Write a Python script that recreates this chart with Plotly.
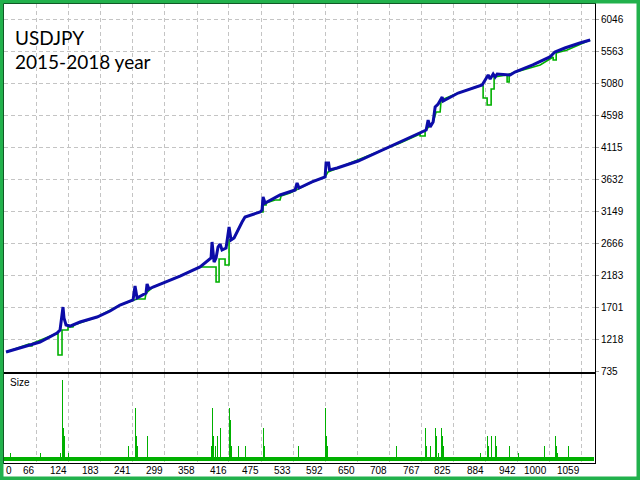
import plotly.graph_objects as go

# ---------------- data ----------------
title_lines = ["USDJPY", "2015-2018 year"]

balance_x = [10.1, 35.6, 72.0, 103.0, 108.5, 113.9, 115.7, 119.4, 126.7, 144.9, 175.9, 199.6,
             217.8, 241.5, 245.1, 248.8, 265.1, 267.0, 270.6, 277.9, 327.1, 363.5, 378.1, 383.6,
             385.4, 387.2, 389.1, 392.7, 396.3, 400.0, 403.6, 410.9, 416.4, 420.0, 425.5, 440.1,
             445.5, 472.9, 476.5, 478.3, 482.0, 509.3, 527.5, 536.7, 540.3, 543.9, 567.6, 585.8,
             591.3, 593.1, 597.7, 599.5, 613.3, 651.6, 722.5, 768.1, 775.4, 779.0, 782.7, 788.1,
             791.8, 797.3, 804.6, 806.4, 833.7, 877.4, 882.9, 888.4, 892.0, 897.5, 901.1, 904.8,
             928.5, 937.0, 969.8, 1000.8, 1009.9, 1028.1, 1055.4, 1074.2]
balance_y = [1026, 1087, 1177, 1313, 1358, 1705, 1539, 1434, 1418, 1479, 1554, 1645,
             1735, 1811, 2022, 1841, 1916, 2052, 1977, 2007, 2173, 2310, 2415, 2445,
             2686, 2536, 2384, 2445, 2611, 2656, 2566, 2596, 2913, 2716, 2747, 2988,
             3064, 3139, 3169, 3366, 3275, 3396, 3441, 3471, 3577, 3501, 3592, 3652,
             3667, 3878, 3878, 3773, 3803, 3908, 4179, 4345, 4375, 4526, 4420, 4496,
             4722, 4768, 4873, 4813, 4934, 5055, 5130, 5206, 5145, 5221, 5175, 5221,
             5206, 5251, 5357, 5478, 5553, 5613, 5689, 5734]

equity_x = [10.1, 52.0, 53.8, 57.5, 59.3, 103.0, 104.8, 104.8, 112.1, 112.1, 123.0, 123.0,
            132.1, 134.0, 175.9, 217.8, 241.5, 248.8, 263.3, 265.1, 277.9, 327.1, 363.5, 378.1,
            392.7, 392.7, 398.2, 398.2, 409.1, 409.1, 416.4, 416.4, 425.5, 440.1, 445.5, 472.9,
            478.3, 478.3, 483.8, 483.8, 500.2, 509.3, 511.1, 527.5, 567.6, 591.3, 596.8, 655.1,
            728.0, 764.4, 764.4, 773.5, 773.5, 788.1, 793.6, 800.9, 802.7, 833.7, 877.4, 879.2,
            879.2, 886.5, 886.5, 893.8, 893.8, 899.2, 899.2, 922.9, 922.9, 926.6, 926.6, 983.1,
            1006.8, 1006.8, 1012.3, 1012.3, 1032.3, 1074.2]
equity_y = [1026, 1147, 1117, 1117, 1162, 1313, 1313, 981, 981, 1358, 1358, 1403,
            1403, 1434, 1554, 1735, 1811, 1826, 1826, 1916, 2007, 2173, 2310, 2310,
            2310, 2082, 2082, 2430, 2430, 2340, 2340, 2716, 2747, 2988, 3064, 3139,
            3139, 3245, 3245, 3275, 3320, 3320, 3381, 3426, 3592, 3667, 3743, 3938,
            4179, 4315, 4285, 4285, 4360, 4496, 4647, 4647, 4828, 4934, 5055, 5040,
            4858, 4858, 4753, 4753, 4994, 4994, 5175, 5206, 5100, 5100, 5221, 5357,
            5478, 5433, 5433, 5538, 5583, 5734]

base_lot = 0.01
trade_count = 1075
spike_x = [18.6, 72.0, 108.5, 112.6, 114.5, 116.3, 123.0, 233.6, 245.7, 247.5, 249.3, 267.5,
           384.1, 385.9, 387.7, 392.1, 395.0, 401.2, 416.9, 418.7, 420.5, 433.9, 446.1, 479.6,
           481.4, 542.6, 591.3, 593.1, 594.9, 721.9, 774.0, 775.8, 782.5, 792.2, 794.0, 797.6,
           803.1, 804.9, 806.7, 873.7, 887.0, 888.8, 894.2, 901.5, 903.3, 927.0, 943.4, 990.7,
           1010.7, 1012.6, 1014.4, 1034.2]
spike_lot = [0.02, 0.02, 0.02, 0.20, 0.08, 0.06, 0.02, 0.035, 0.13, 0.06, 0.035, 0.06,
             0.035, 0.13, 0.06, 0.035, 0.06, 0.08, 0.13, 0.10, 0.035, 0.035, 0.035, 0.08,
             0.035, 0.035, 0.13, 0.06, 0.035, 0.035, 0.08, 0.035, 0.035, 0.08, 0.06, 0.02,
             0.08, 0.06, 0.035, 0.02, 0.06, 0.035, 0.06, 0.06, 0.035, 0.035, 0.02, 0.035,
             0.06, 0.035, 0.02, 0.035]

y_ticks = [735, 1218, 1701, 2183, 2666, 3149, 3632, 4115, 4598, 5080, 5563, 6046]
x_ticks = [66, 124, 183, 241, 299, 358, 416, 475, 533, 592, 650, 708, 767, 825, 884, 942, 1000, 1059]

# ---------------- style ----------------
W, H = 640, 480
FRAME = "#22b14c"
BLUE = "#0c0ca8"
GREEN = "#00b000"
GRID = "#c4c4c4"
XR = [6.4, 1083]

def px(x):
    return x / W

def py(y):
    return 1 - y / H

fig = go.Figure()
fig.add_trace(go.Scatter(x=equity_x, y=equity_y, mode="lines",
                         line=dict(color=GREEN, width=1.6), hoverinfo="skip",
                         xaxis="x", yaxis="y"))
fig.add_trace(go.Scatter(x=balance_x, y=balance_y, mode="lines",
                         line=dict(color=BLUE, width=3), hoverinfo="skip",
                         xaxis="x", yaxis="y"))
fig.add_trace(go.Bar(x=list(range(6, 6 + trade_count)), y=[base_lot] * trade_count,
                     width=1, marker=dict(color=GREEN, line=dict(width=0)),
                     xaxis="x2", yaxis="y2", hoverinfo="skip"))
fig.add_trace(go.Bar(x=spike_x, y=spike_lot, width=1.8,
                     marker=dict(color=GREEN, line=dict(width=0)),
                     xaxis="x2", yaxis="y2", hoverinfo="skip"))

axis_common = dict(showline=True, linecolor="black", linewidth=1, mirror=True,
                   zeroline=False, automargin=False)
fig.update_layout(
    width=W, height=H, margin=dict(l=0, r=0, t=0, b=0, autoexpand=False),
    paper_bgcolor="white", plot_bgcolor="white", showlegend=False,
    barmode="overlay", bargap=0,
    xaxis=dict(domain=[px(4), px(595)], range=XR, tickvals=x_ticks, showticklabels=False,
               showgrid=True, gridcolor=GRID, griddash="4px,3px", gridwidth=1,
               ticks="", anchor="y", **axis_common),
    yaxis=dict(domain=[py(372), py(4)], range=[725, 6277], tickvals=y_ticks,
               ticktext=[str(v) for v in y_ticks], side="right", showgrid=True,
               gridcolor=GRID, griddash="4px,3px", gridwidth=1,
               ticks="outside", ticklen=3, tickcolor="#a0a0a0",
               tickfont=dict(family="Liberation Sans", size=10, color="black"),
               anchor="x", **axis_common),
    xaxis2=dict(domain=[px(4), px(595)], range=XR, tickvals=x_ticks, showticklabels=False,
                showgrid=True, gridcolor=GRID, griddash="4px,3px", gridwidth=1,
                ticks="", anchor="y2", **axis_common),
    yaxis2=dict(domain=[py(463), py(374)], range=[-0.006, 0.215], showticklabels=False,
                showgrid=False, ticks="", anchor="x2", **axis_common),
)

ann = []
for i, t in enumerate(title_lines):
    ann.append(dict(x=px(13), y=py(37 + 25 * i), xref="paper", yref="paper", text=t,
                    showarrow=False, xanchor="left", yanchor="middle",
                    font=dict(family="Lato", size=19, color="black")))
ann.append(dict(x=px(8), y=py(382), xref="paper", yref="paper", text="Size",
                showarrow=False, xanchor="left", yanchor="middle",
                font=dict(family="Liberation Sans", size=10, color="black")))
ann.append(dict(x=XR[0], y=py(470), xref="x2", yref="paper", text="0", showarrow=False,
                xanchor="left", yanchor="middle", xshift=0,
                font=dict(family="Liberation Sans", size=10, color="black")))
for v in x_ticks:
    ann.append(dict(x=v, y=py(470), xref="x2", yref="paper", text=str(v), showarrow=False,
                    xanchor="right", yanchor="middle",
                    font=dict(family="Liberation Sans", size=10, color="black")))
fig.update_layout(annotations=ann)

fig.add_shape(type="rect", xref="paper", yref="paper", x0=0, y0=0, x1=1, y1=1,
              line=dict(color=FRAME, width=7), fillcolor="rgba(0,0,0,0)", layer="above")

fig.write_html("out.html", config={"displayModeBar": False, "staticPlot": True},
               post_script="document.body.style.margin='0';document.body.style.padding='0';")
